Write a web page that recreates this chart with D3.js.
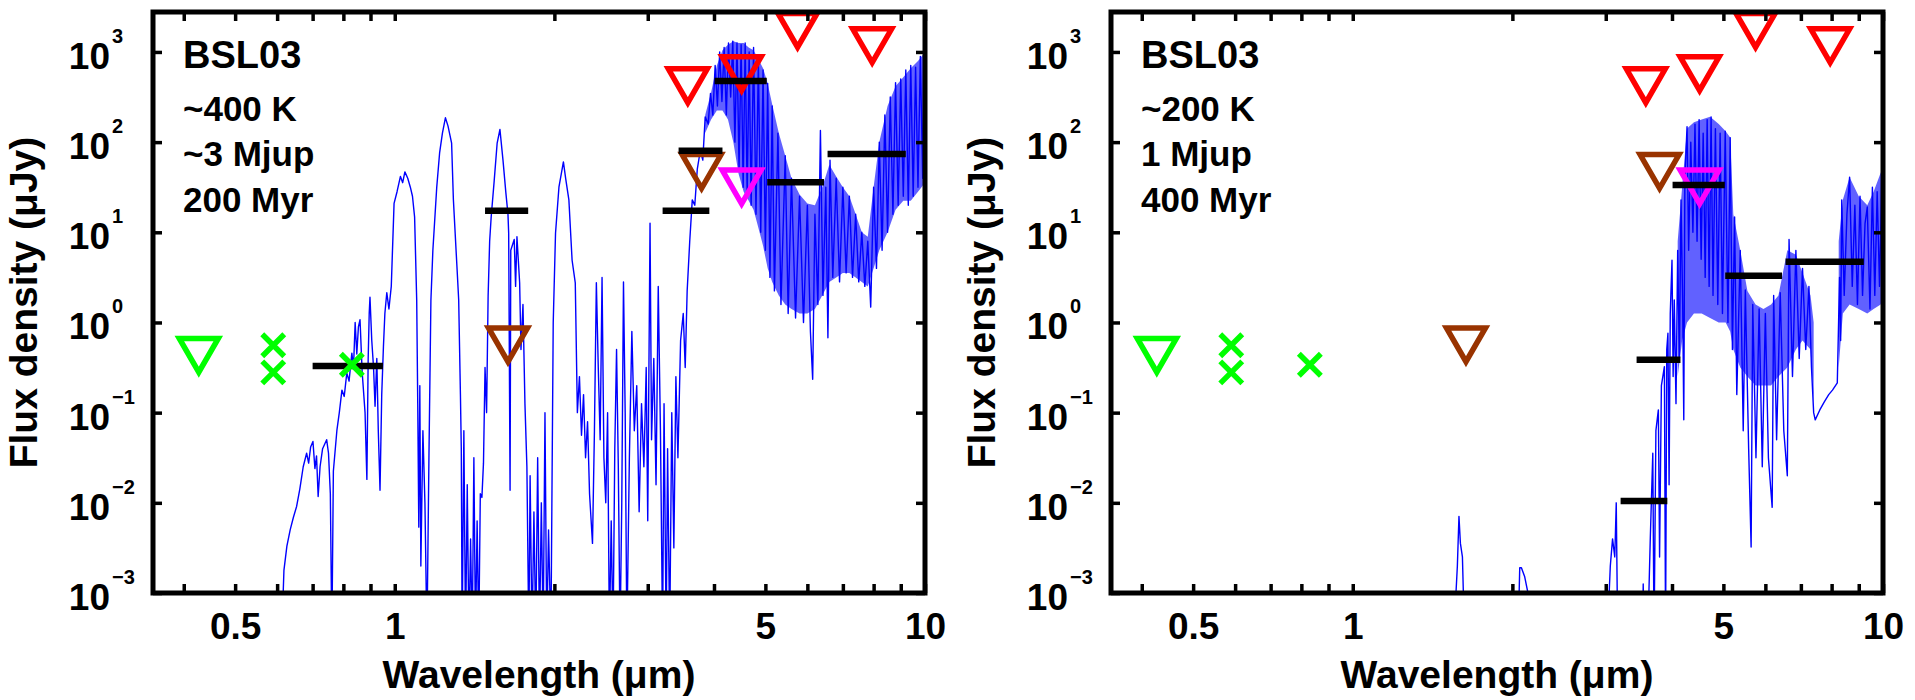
<!DOCTYPE html>
<html><head><meta charset="utf-8">
<script src="https://cdn.jsdelivr.net/npm/d3@7"></script>
<style>
body{margin:0;background:#fff}
svg{display:block}
text{font-family:"Liberation Sans",Arial,Helvetica,sans-serif;font-weight:bold;fill:#000}
</style>
</head><body>
<svg id="c" width="1915" height="700"></svg>
<script>
// ---------- axis / tick data ----------
const xDomain = [0.35, 10];
const yDomainLog = [-3, 3.443];
const xTickValues = [0.4,0.5,0.6,0.7,0.8,0.9,1,2,3,4,5,6,7,8,9,10];
const xTickLabels = {0.5:"0.5", 1:"1", 5:"5", 10:"10"};
const yTickExponents = [-3,-2,-1,0,1,2,3];
const xAxisTitle = "Wavelength (\u03bcm)";
const yAxisTitle = "Flux density (\u03bcJy)";
const panelTitle = "BSL03";
const notes400 = ["~400 K","~3 Mjup","200 Myr"];
const notes200 = ["~200 K","1 Mjup","400 Myr"];

// ---------- photometry (wavelength um, flux uJy) ----------
const greenTriangles = [[0.427,0.42]];
const greenCrosses = [[0.59,0.56],[0.59,0.28],[0.83,0.34]];
const brownTriangles = [[1.635,0.55],[3.79,46]];
const redTriangles = [[3.57,410],[4.51,560],[5.75,1690],[7.95,1140]];
const magentaTriangles = [[4.51,31]];
// model band fluxes: [lambdaStart, lambdaEnd, flux]
const bars400 = [[0.70,0.95,0.33],[1.48,1.785,17.3],[3.2,3.92,17.3],[3.43,4.15,80],[4.01,5.03,476],[5.04,6.45,36],[6.55,9.2,74]];
const bars200 = [[3.2,3.92,0.0105],[3.43,4.15,0.385],[4.01,5.03,33.5],[5.04,6.45,3.29],[6.55,9.2,4.7]];

// ---------- model spectra: [lambda um, log10 flux uJy] ----------
const spec400 = [[0.612,-3.5],[0.618,-2.75],[0.626,-2.48],[0.635,-2.30],[0.644,-2.16],[0.653,-2.04],[0.662,-1.85],[0.672,-1.60],[0.682,-1.45],[0.688,-1.56],[0.694,-1.38],[0.701,-1.32],[0.707,-1.62],[0.712,-1.48],[0.717,-1.93],[0.723,-1.60],[0.731,-1.40],[0.744,-1.30],[0.750,-1.45],[0.756,-1.90],[0.761,-3.5],[0.766,-1.65],[0.778,-1.19],[0.786,-1.00],[0.795,-0.75],[0.803,-0.82],[0.812,-0.56],[0.820,-0.65],[0.830,-0.34],[0.836,-0.50],[0.842,0.00],[0.848,-0.35],[0.854,-0.05],[0.860,0.03],[0.868,-0.55],[0.879,-1.00],[0.886,-1.74],[0.891,-0.40],[0.895,0.10],[0.898,0.28],[0.905,-0.20],[0.912,-0.50],[0.918,-0.93],[0.925,-0.40],[0.931,-1.20],[0.938,-1.86],[0.945,-0.80],[0.952,-0.27],[0.958,0.10],[0.966,0.33],[0.975,0.15],[0.985,0.40],[0.997,1.32],[1.01,1.45],[1.025,1.62],[1.035,1.55],[1.045,1.67],[1.058,1.60],[1.07,1.50],[1.08,1.40],[1.09,1.17],[1.10,0.25],[1.105,-0.9],[1.11,-2.27],[1.115,-0.7],[1.12,-2.7],[1.13,-1.2],[1.14,-2.0],[1.15,-3.5],[1.16,-1.5],[1.17,0.25],[1.18,0.80],[1.20,1.50],[1.215,1.88],[1.23,2.10],[1.246,2.27],[1.26,2.18],[1.28,1.99],[1.29,1.36],[1.31,0.62],[1.32,0.25],[1.33,-0.8],[1.335,-1.4],[1.34,-3.5],[1.35,-1.2],[1.36,-3.5],[1.37,-1.8],[1.38,-3.5],[1.39,-2.4],[1.40,-3.5],[1.41,-1.5],[1.42,-3.5],[1.43,-2.2],[1.44,-3.5],[1.45,-1.9],[1.46,-1.94],[1.47,-1.56],[1.48,-0.5],[1.49,-1.0],[1.50,0.3],[1.51,0.9],[1.52,1.17],[1.54,1.57],[1.56,1.99],[1.579,2.14],[1.60,1.80],[1.62,1.44],[1.635,1.2],[1.64,0.99],[1.65,-1.86],[1.655,0.8],[1.68,0.92],[1.69,0.4],[1.70,0.95],[1.72,0.44],[1.73,-0.3],[1.745,0.2],[1.76,-0.9],[1.775,-1.6],[1.79,-3.5],[1.80,-1.7],[1.815,-3.5],[1.83,-2.1],[1.845,-3.5],[1.86,-1.5],[1.875,-3.5],[1.89,-2.0],[1.905,-3.5],[1.92,-1.0],[1.935,-3.5],[1.95,-2.3],[1.97,-3.5],[1.99,0.0],[2.01,0.99],[2.04,1.50],[2.08,1.78],[2.10,1.60],[2.13,1.36],[2.16,0.69],[2.19,0.44],[2.21,-1.0],[2.23,-0.6],[2.25,-1.25],[2.27,-0.8],[2.29,-1.5],[2.31,-1.1],[2.33,-1.9],[2.36,-2.45],[2.38,-1.2],[2.40,0.44],[2.42,-0.5],[2.44,-1.3],[2.46,0.5],[2.48,-1.5],[2.50,-2.0],[2.52,-1.0],[2.54,-3.5],[2.56,-2.2],[2.58,-3.5],[2.60,-1.4],[2.62,-0.3],[2.64,-1.6],[2.66,-3.5],[2.68,-2.0],[2.70,0.45],[2.72,-1.0],[2.74,-3.5],[2.77,-1.5],[2.80,-0.1],[2.83,-1.2],[2.86,-0.7],[2.89,-2.1],[2.92,-0.9],[2.95,-1.6],[2.98,-0.5],[3.0,-2.2],[3.03,1.1],[3.05,-1.3],[3.08,-0.4],[3.11,-1.8],[3.14,0.4],[3.17,-1.2],[3.20,-3.5],[3.22,-0.9],[3.25,-3.5],[3.27,-1.4],[3.30,-3.5],[3.33,-1.0],[3.36,-2.5],[3.39,-0.6],[3.42,-1.5],[3.46,-0.2],[3.50,0.1],[3.53,-0.5],[3.56,0.35],[3.60,0.9],[3.64,1.36],[3.68,1.3],[3.72,1.7],[3.77,1.91],[3.81,1.8],[3.85,2.28],[3.90,2.2],[3.94,2.54],[3.98,2.3],[4.02,2.85],[4.06,2.4],[4.10,3.0],[4.14,2.45],[4.18,3.05],[4.22,2.3],[4.26,3.1],[4.30,2.5],[4.34,3.12],[4.38,2.0],[4.42,3.1],[4.46,1.7],[4.50,3.08],[4.54,1.5],[4.58,3.1],[4.62,1.4],[4.66,3.0],[4.70,1.3],[4.75,3.05],[4.80,1.2],[4.85,2.9],[4.90,1.0],[4.95,2.8],[5.00,0.8],[5.05,2.65],[5.10,0.5],[5.15,2.4],[5.20,0.35],[5.28,2.1],[5.35,0.2],[5.45,1.85],[5.52,0.1],[5.60,1.6],[5.70,0.05],[5.80,1.4],[5.90,0.0],[6.00,1.3],[6.08,-0.1],[6.14,-0.63],[6.20,1.2],[6.28,0.2],[6.35,2.13],[6.42,0.3],[6.50,1.5],[6.56,-0.17],[6.62,1.8],[6.70,0.5],[6.80,1.6],[6.90,0.45],[7.00,1.5],[7.10,0.55],[7.20,1.4],[7.30,0.5],[7.40,1.2],[7.50,0.45],[7.60,1.0],[7.70,0.4],[7.80,0.9],[7.90,0.17],[8.00,1.5],[8.10,0.6],[8.20,2.0],[8.30,0.8],[8.40,2.3],[8.50,1.0],[8.60,2.5],[8.70,1.2],[8.80,2.66],[8.90,1.3],[9.00,2.7],[9.10,1.4],[9.20,2.8],[9.30,1.3],[9.40,2.85],[9.50,1.4],[9.60,2.83],[9.70,1.5],[9.80,2.95],[9.90,1.6],[9.95,3.02],[10.0,2.6]];

// dense parts of the spectrum: [lambda, log10 low, log10 high]
const band400 = [[3.85,2.1,2.3],[3.95,2.25,2.55],[4.05,2.35,2.85],[4.15,2.35,3.02],[4.25,2.25,3.08],[4.35,2.0,3.12],[4.45,1.65,3.1],[4.55,1.45,3.1],[4.65,1.35,3.05],[4.75,1.25,3.02],[4.85,1.05,2.92],[4.95,0.85,2.82],[5.05,0.6,2.65],[5.15,0.45,2.42],[5.3,0.3,2.1],[5.45,0.2,1.85],[5.6,0.15,1.6],[5.8,0.1,1.42],[6.0,0.1,1.32],[6.2,0.15,1.3],[6.4,0.3,1.5],[6.6,0.45,1.75],[6.8,0.5,1.62],[7.0,0.55,1.5],[7.2,0.55,1.4],[7.4,0.5,1.2],[7.6,0.45,1.0],[7.8,0.4,0.95],[8.0,0.6,1.5],[8.2,0.8,2.0],[8.5,1.0,2.4],[8.8,1.25,2.62],[9.1,1.35,2.72],[9.4,1.35,2.82],[9.7,1.45,2.9],[10.0,1.55,3.0]];

const spec200 = [[1.55,-3.5],[1.575,-2.7],[1.586,-2.15],[1.596,-2.45],[1.61,-2.6],[1.625,-3.5],[2.05,-3.5],[2.065,-2.72],[2.08,-2.72],[2.11,-2.82],[2.14,-3.0],[2.155,-3.5],[3.02,-3.5],[3.06,-2.7],[3.09,-2.4],[3.12,-2.6],[3.14,-2.0],[3.16,-3.5],[3.52,-3.5],[3.53,-2.9],[3.545,-3.5],[3.60,-3.5],[3.64,-2.4],[3.68,-1.45],[3.70,-3.5],[3.73,-1.2],[3.77,-0.97],[3.79,-2.6],[3.82,-0.7],[3.87,-0.49],[3.89,-3.5],[3.91,-0.3],[3.93,-0.12],[3.95,-1.8],[3.97,0.1],[4.0,0.69],[4.02,-0.6],[4.04,0.25],[4.07,-0.9],[4.1,0.8],[4.13,-0.4],[4.16,1.36],[4.19,0.2],[4.21,-1.08],[4.23,1.6],[4.27,2.17],[4.3,0.8],[4.34,2.0],[4.38,1.0],[4.42,2.2],[4.46,0.9],[4.5,2.25],[4.54,0.7],[4.58,2.1],[4.62,0.5],[4.66,2.25],[4.7,0.4],[4.74,2.28],[4.78,0.3],[4.83,2.15],[4.88,0.2],[4.93,2.1],[4.98,0.1],[5.04,2.12],[5.1,0.0],[5.15,2.05],[5.2,-0.3],[5.25,1.17],[5.3,-0.8],[5.38,0.8],[5.45,-1.2],[5.5,0.36],[5.58,-1.4],[5.64,-2.49],[5.68,0.2],[5.76,-1.5],[5.84,0.15],[5.92,-1.6],[6.0,0.1],[6.08,-1.5],[6.18,-2.05],[6.22,0.3],[6.3,-1.3],[6.4,0.33],[6.5,-1.2],[6.6,-1.7],[6.65,0.92],[6.75,-0.6],[6.85,0.8],[6.95,-0.4],[7.05,0.6],[7.15,-0.3],[7.25,0.4],[7.33,-0.5],[7.4,-1.0],[7.45,-1.08],[7.6,-0.97],[7.75,-0.88],[7.9,-0.8],[8.03,-0.75],[8.2,-0.67],[8.28,0.5],[8.32,-0.2],[8.36,1.36],[8.45,0.3],[8.55,1.2],[8.65,1.61],[8.75,0.4],[8.85,1.3],[8.95,0.2],[9.05,1.4],[9.15,0.3],[9.25,1.1],[9.34,1.28],[9.45,0.15],[9.55,1.5],[9.65,0.3],[9.75,1.45],[9.85,0.4],[9.95,1.66],[10.0,1.0]];

const band200a = [[4.10,-0.6,0.9],[4.18,-0.2,1.5],[4.27,0.0,2.15],[4.4,0.1,2.22],[4.55,0.1,2.25],[4.72,0.05,2.28],[4.9,0.0,2.2],[5.05,0.0,2.12],[5.15,-0.1,2.05],[5.22,-0.3,1.2],[5.38,-0.5,0.8],[5.55,-0.6,0.35],[5.75,-0.7,0.2],[5.95,-0.7,0.15],[6.15,-0.7,0.2],[6.35,-0.6,0.3],[6.6,-0.5,0.8],[6.85,-0.3,0.75],[7.05,-0.2,0.55],[7.3,-0.3,0.3],[7.4,-0.9,0.0]];
const band200b = [[8.25,-0.5,0.9],[8.4,0.1,1.36],[8.65,0.2,1.61],[9.0,0.15,1.4],[9.34,0.1,1.3],[9.6,0.15,1.45],[9.9,0.2,1.66],[10.0,0.3,1.7]];

// ---------- layout ----------
const PW = 772, TOP = 12, BOT = 593;
const panels = [
  {ox:153, notes:notes400, line:spec400, bands:[band400], bars:bars400},
  {ox:1111, notes:notes200, line:spec200, bands:[band200a, band200b], bars:bars200}
];

const svg = d3.select("#c");
const defs = svg.append("defs");
const triPath = "M-19.5,-18L19.5,-18L0,15.8Z";
const crossPath = "M-11,-11L11,11M-11,11L11,-11";

panels.forEach((p, i) => {
  const x = d3.scaleLog().domain(xDomain).range([p.ox, p.ox + PW]);
  const y = d3.scaleLog().domain(yDomainLog.map(v => Math.pow(10, v))).range([BOT, TOP]);
  const F = v => y(Math.pow(10, v));
  const g = svg.append("g");

  defs.append("clipPath").attr("id", "clip" + i).append("rect")
    .attr("x", p.ox).attr("y", TOP).attr("width", PW).attr("height", BOT - TOP);
  const sg = g.append("g").attr("clip-path", `url(#clip${i})`);

  // dense spectrum regions
  p.bands.forEach(b => {
    sg.append("path").datum(b)
      .attr("d", d3.area().x(d => x(d[0])).y0(d => F(d[1])).y1(d => F(d[2])))
      .attr("fill", "#0000ff").attr("fill-opacity", 0.62);
  });
  // spectrum line
  sg.append("path").datum(p.line)
    .attr("d", d3.line().x(d => x(d[0])).y(d => F(d[1])))
    .attr("fill", "none").attr("stroke", "#0000ff").attr("stroke-width", 1.4)
    .attr("stroke-linejoin", "round");

  // triangles
  const tri = (data, color) => g.selectAll(null).data(data).enter().append("path")
    .attr("d", triPath)
    .attr("transform", d => `translate(${x(d[0])},${y(d[1])})`)
    .attr("fill", "none").attr("stroke", color).attr("stroke-width", 5.5)
    .attr("stroke-linejoin", "miter");
  tri(greenTriangles, "#00ff00");
  tri(brownTriangles, "#993300");
  tri(redTriangles, "#ff0000");
  tri(magentaTriangles, "#ff00ff");

  // model band bars
  g.selectAll(null).data(p.bars).enter().append("line")
    .attr("x1", d => x(d[0])).attr("x2", d => x(d[1]))
    .attr("y1", d => y(d[2])).attr("y2", d => y(d[2]))
    .attr("stroke", "#000").attr("stroke-width", 6.5);

  // crosses
  g.selectAll(null).data(greenCrosses).enter().append("path")
    .attr("d", crossPath)
    .attr("transform", d => `translate(${x(d[0])},${y(d[1])})`)
    .attr("fill", "none").attr("stroke", "#00ff00").attr("stroke-width", 5.5);

  // axes ticks (inward)
  const yTicks = yTickExponents.map(e => Math.pow(10, e));
  const styleAxis = sel => {
    sel.select(".domain").remove();
    sel.selectAll(".tick line").attr("stroke", "#000").attr("stroke-width", 3.5);
  };
  g.append("g").attr("transform", `translate(0,${BOT})`)
    .call(d3.axisBottom(x).tickValues(xTickValues).tickSize(-9).tickPadding(35)
      .tickFormat(d => xTickLabels[d] || ""))
    .call(styleAxis)
    .call(s => s.selectAll(".tick text").attr("font-size", 37).attr("dy", "0.3em")
      .style("font-family", '"Liberation Sans",Arial,sans-serif').style("font-weight", "bold").attr("fill", "#000"));
  g.append("g").attr("transform", `translate(0,${TOP})`)
    .call(d3.axisTop(x).tickValues(xTickValues).tickSize(-9).tickFormat(""))
    .call(styleAxis);
  g.append("g").attr("transform", `translate(${p.ox},0)`)
    .call(d3.axisLeft(y).tickValues(yTicks).tickSize(-9).tickFormat(""))
    .call(styleAxis);
  g.append("g").attr("transform", `translate(${p.ox + PW},0)`)
    .call(d3.axisRight(y).tickValues(yTicks).tickSize(-9).tickFormat(""))
    .call(styleAxis);

  // y tick labels 10^e
  yTickExponents.forEach(e => {
    const ty = y(Math.pow(10, e));
    g.append("text").attr("x", p.ox - 43).attr("y", ty + 17).attr("text-anchor", "end")
      .attr("font-size", 37).text("10");
    g.append("text").attr("x", p.ox - 41).attr("y", ty - 9).attr("text-anchor", "start")
      .attr("font-size", 20).text(e < 0 ? "\u2212" + Math.abs(e) : String(e));
  });

  // frame
  g.append("rect").attr("x", p.ox).attr("y", TOP).attr("width", PW).attr("height", BOT - TOP)
    .attr("fill", "none").attr("stroke", "#000").attr("stroke-width", 5);

  // axis titles
  g.append("text").attr("x", p.ox + PW / 2).attr("y", 688).attr("text-anchor", "middle")
    .attr("font-size", 39).text(xAxisTitle);
  g.append("text").attr("transform", `translate(${p.ox - 116},${(TOP + BOT) / 2}) rotate(-90)`)
    .attr("text-anchor", "middle").attr("font-size", 39).text(yAxisTitle);

  // annotation
  g.append("text").attr("x", p.ox + 30).attr("y", 68).attr("font-size", 38).text(panelTitle);
  const noteY = [121, 166, 212];
  p.notes.forEach((t, k) => {
    g.append("text").attr("x", p.ox + 30).attr("y", noteY[k]).attr("font-size", 35).text(t);
  });
});
</script>
</body></html>
